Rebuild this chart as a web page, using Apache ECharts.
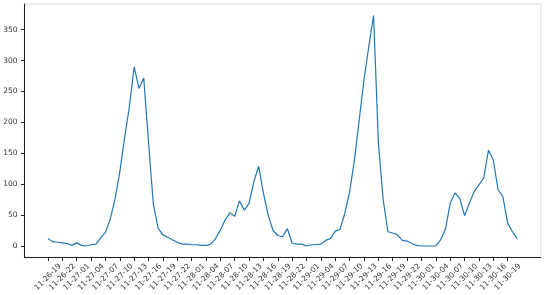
<!DOCTYPE html>
<html>
<head>
<meta charset="utf-8">
<script src="https://cdn.jsdelivr.net/npm/echarts@6/dist/echarts.min.js"></script>
<style>html,body{margin:0;padding:0;background:#fff}#c{width:550px;height:295px}</style>
</head>
<body>
<div id="c"></div>
<script>
// hourly counts starting at 11-26-19
const values = [12,7,6,5,4,1,5,1,0,2,3,13,22,43,76,120,175,225,290,255,272,168,68,29,18,14,10,6,3,3,2,2,1,1,3,12,26,42,54,48,73,58,69,104,129,85,50,25,17,15,28,4,3,3,0,2,2,3,9,12,24,27,53,88,139,204,269,323,373,168,75,23,21,18,9,8,4,1,0,0,0,0,10,27,69,86,77,49,69,88,99,110,155,139,91,80,37,23,12];
// tick labels every 3 hours
const tickLabels = ['11-26-19','11-26-22','11-27-01','11-27-04','11-27-07','11-27-10','11-27-13','11-27-16','11-27-19','11-27-22','11-28-01','11-28-04','11-28-07','11-28-10','11-28-13','11-28-16','11-28-19','11-28-22','11-29-01','11-29-04','11-29-07','11-29-10','11-29-13','11-29-16','11-29-19','11-29-22','11-30-01','11-30-04','11-30-07','11-30-10','11-30-13','11-30-16','11-30-19'];
const yTicks = [0,50,100,150,200,250,300,350];

const tickStep = 3;
const xTicks = tickLabels.map((_, i) => i * tickStep);
const n = values.length;
const span = n - 1;
const yMaxData = Math.max(...values), yMinData = Math.min(...values);
const yPad = (yMaxData - yMinData) * 0.05;

const chart = echarts.init(document.getElementById('c'), null, {renderer: 'canvas'});
chart.setOption({
  animation: false,
  backgroundColor: '#fff',
  grid: {left: 24.5, right: 9.3, top: 4, bottom: 37.5, show: true, borderColor: '#e8e8e8', borderWidth: 1.5, outerBoundsMode: 'none'},
  xAxis: {
    type: 'value',
    min: -span * 0.05,
    max: span * 1.05,
    axisLine: {show: true, onZero: false, lineStyle: {color: '#222', width: 1}},
    axisTick: {show: true, customValues: xTicks, length: 3.5, lineStyle: {color: '#222'}},
    axisLabel: {
      customValues: xTicks,
      rotate: 45, align: 'center', verticalAlign: 'middle', margin: 19.5,
      fontFamily: 'DejaVu Sans', fontSize: 7.5, color: '#333',
      formatter: v => tickLabels[Math.round(v / tickStep)] || ''
    },
    splitLine: {show: false}
  },
  yAxis: {
    type: 'value',
    min: yMinData - yPad,
    max: yMaxData + yPad,
    axisLine: {show: true, onZero: false, lineStyle: {color: '#222', width: 1}},
    axisTick: {show: true, customValues: yTicks, length: 3.5, lineStyle: {color: '#222'}},
    axisLabel: {customValues: yTicks, margin: 7, fontFamily: 'DejaVu Sans', fontSize: 7.5, color: '#333'},
    splitLine: {show: false}
  },
  series: [{
    type: 'line',
    data: values.map((v, i) => [i, v]),
    showSymbol: false,
    lineStyle: {color: '#1f77b4', width: 1.2},
    itemStyle: {color: '#1f77b4'}
  }]
});
</script>
</body>
</html>
